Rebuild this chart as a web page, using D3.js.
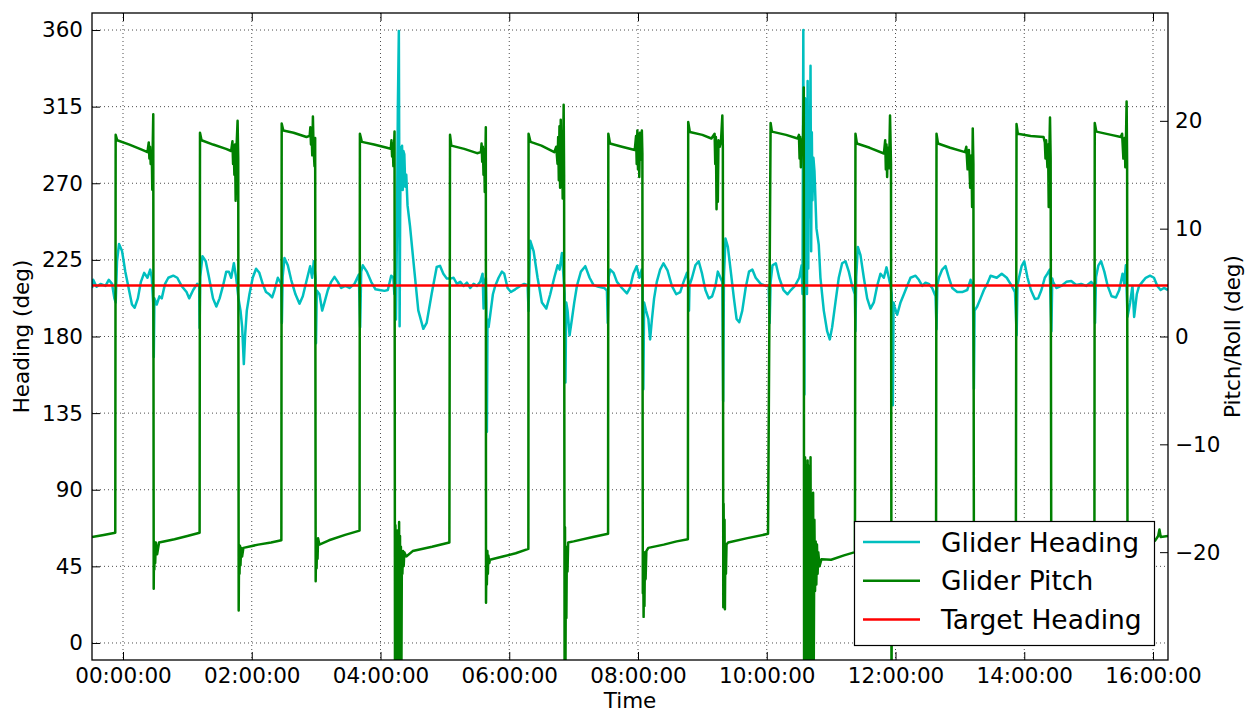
<!DOCTYPE html>
<html><head><meta charset="utf-8">
<script src="https://cdn.jsdelivr.net/npm/d3@7"></script>
<style>
body{margin:0;background:#fff}
svg{display:block}
text{font-family:"DejaVu Sans",sans-serif;fill:#000}
</style>
</head><body>
<svg id="chart" width="1247" height="713"></svg>
<script>
// ---------- data ----------
const xTickHours = [0, 2, 4, 6, 8, 10, 12, 14, 16];
const headingTicks = [0, 45, 90, 135, 180, 225, 270, 315, 360];
const pitchTicks = [-20, -10, 0, 10, 20];
const timeRangeHours = [-0.4816, 16.233];
const targetHeading = 210;
const legendLabels = ["Glider Heading", "Glider Pitch", "Target Heading"];

// [hours since 00:00, heading deg]
const headingSeries = [
[-0.481,208.5],[-0.463,213.3],[-0.411,209.2],[-0.35,210.9],[-0.272,209.7],[-0.221,213.3],[-0.17,210.9],[-0.134,202.4],[-0.113,200.0],[-0.093,224.2],[-0.062,234.3],[-0.015,230.2],[0.036,218.1],[0.087,208.5],[0.139,198.8],[0.18,196.9],[0.231,202.4],[0.278,212.1],[0.329,217.4],[0.38,214.5],[0.422,219.3],[0.447,214.5],[0.468,200],[0.478,168],[0.488,202.4],[0.524,198.8],[0.566,203.6],[0.602,202.4],[0.653,210.9],[0.704,214.5],[0.781,215.7],[0.843,214.5],[0.91,209.7],[0.987,206.1],[1.028,202.4],[1.09,207.3],[1.152,210.9],[1.183,209.7],[1.19,185],[1.20,215],[1.234,227.1],[1.285,224.2],[1.337,214.5],[1.398,202.4],[1.45,197.6],[1.501,202.4],[1.553,209.7],[1.604,218.1],[1.645,218.1],[1.681,214.5],[1.722,223],[1.758,214.5],[1.794,202.4],[1.825,195.2],[1.851,185.5],[1.877,163.8],[1.897,180.7],[1.923,195.2],[1.964,204.8],[2.015,214.5],[2.067,219.8],[2.118,217.4],[2.17,210.9],[2.221,206.1],[2.272,204.8],[2.317,203],[2.354,207.3],[2.405,214.5],[2.457,210.9],[2.468,188],[2.48,215],[2.508,226.1],[2.56,221.8],[2.612,213.3],[2.679,204.8],[2.742,199.3],[2.793,203.6],[2.855,213.3],[2.907,221.3],[2.938,214.5],[2.964,224.2],[2.99,214.5],[2.998,176],[3.01,207],[3.052,204.8],[3.094,195.2],[3.13,200],[3.182,207.3],[3.234,212.1],[3.285,215],[3.337,212.1],[3.389,208.5],[3.456,209.7],[3.518,208.5],[3.596,210.9],[3.663,216.4],[3.684,185.5],[3.70,218],[3.725,221.8],[3.788,218.1],[3.855,212.1],[3.922,207.7],[3.984,207.3],[4.062,206.8],[4.114,207.3],[4.166,215.7],[4.20,214.5],[4.215,205],[4.225,218],[4.24,190],[4.255,240],[4.27,316],[4.285,359.5],[4.29,300],[4.297,186],[4.305,250],[4.315,291],[4.325,280],[4.335,292],[4.345,266],[4.355,289],[4.37,287],[4.385,268],[4.40,275],[4.42,257],[4.458,245],[4.51,224.7],[4.587,195.3],[4.665,184.5],[4.717,188],[4.795,205.1],[4.873,220.8],[4.924,221.5],[4.976,216.9],[5.03,214],[5.083,214],[5.135,214.5],[5.187,210.9],[5.239,212.1],[5.291,209.7],[5.342,211.6],[5.394,208.5],[5.446,210.9],[5.498,209.7],[5.549,212.1],[5.586,216.9],[5.601,196.4],[5.615,212],[5.637,214.5],[5.645,200],[5.653,124],[5.662,190],[5.679,185.5],[5.705,192.8],[5.746,204.8],[5.782,209.7],[5.834,214.5],[5.886,218.1],[5.922,216.9],[5.974,208.5],[6.026,206.1],[6.093,207.7],[6.171,209.7],[6.233,210.9],[6.285,210.2],[6.30,195],[6.31,215],[6.326,236.3],[6.378,230.2],[6.44,214.5],[6.507,200],[6.575,196.4],[6.637,204.8],[6.699,214.5],[6.751,221.8],[6.782,219.3],[6.818,229],[6.844,214.5],[6.86,205],[6.873,153],[6.885,200],[6.906,195.2],[6.937,180.7],[6.974,190.3],[7.01,200],[7.051,209.7],[7.113,218.1],[7.181,221.3],[7.248,214.5],[7.31,210.2],[7.388,209.2],[7.476,208.5],[7.517,207],[7.53,188],[7.545,215],[7.569,219.3],[7.621,217.4],[7.673,212.1],[7.75,208.5],[7.828,205.3],[7.875,208.5],[7.927,216.9],[7.979,221.3],[8.021,214.5],[8.057,219.3],[8.07,210],[8.083,149],[8.095,200],[8.125,195.2],[8.161,190.3],[8.188,178.3],[8.214,189.1],[8.25,202.4],[8.292,212.1],[8.344,219.3],[8.396,223],[8.458,218.9],[8.526,209.7],[8.594,204.8],[8.656,206.1],[8.708,212.1],[8.76,217.4],[8.785,212],[8.792,195.2],[8.80,210],[8.839,214.5],[8.891,221.8],[8.943,224.2],[8.995,216.9],[9.047,207.3],[9.099,202.4],[9.151,203.6],[9.203,209.7],[9.24,218.1],[9.281,214.5],[9.31,212],[9.323,142],[9.335,215],[9.359,237.5],[9.396,232.6],[9.438,219.3],[9.49,202.4],[9.531,190.3],[9.573,188.4],[9.62,195.2],[9.672,208.5],[9.724,218.1],[9.776,219.3],[9.828,214.5],[9.906,210.9],[9.984,209.7],[10.03,210],[10.045,188],[10.06,212],[10.089,221.8],[10.141,223],[10.193,214.5],[10.26,207.3],[10.323,204.8],[10.375,207.3],[10.438,209.7],[10.505,214.5],[10.542,221.8],[10.555,205],[10.568,360],[10.575,230],[10.585,146],[10.595,320],[10.605,210],[10.615,300],[10.625,205],[10.635,330],[10.645,220],[10.655,310],[10.665,250],[10.68,339],[10.69,230],[10.70,300],[10.71,260],[10.725,285],[10.741,277.3],[10.772,243.5],[10.808,233.8],[10.834,214.5],[10.886,195.2],[10.938,183.1],[10.979,178.3],[11.016,185.5],[11.067,200],[11.119,214.5],[11.171,223],[11.223,224.2],[11.275,218.1],[11.326,209.7],[11.368,204.8],[11.378,183.1],[11.39,215],[11.415,232.6],[11.456,227.8],[11.508,214.5],[11.56,202.4],[11.611,196.4],[11.663,200],[11.715,209.7],[11.767,216.9],[11.819,214.5],[11.86,220.6],[11.896,214.5],[11.922,210],[11.94,205],[11.959,139.6],[11.97,200],[11.984,197.6],[12.026,192.8],[12.078,200],[12.13,204.8],[12.181,209.7],[12.233,214.5],[12.311,215.7],[12.363,213.3],[12.415,209.7],[12.466,211.6],[12.518,210.9],[12.57,208.5],[12.622,203.6],[12.637,184.3],[12.65,210],[12.674,214.5],[12.725,219.3],[12.777,221.3],[12.829,214.5],[12.881,208.5],[12.959,206.1],[13.036,206.1],[13.114,207.3],[13.166,213.3],[13.202,210],[13.218,149.3],[13.228,195.2],[13.269,197.6],[13.321,202.4],[13.373,207.3],[13.425,210.9],[13.477,215.7],[13.573,214.5],[13.65,216.9],[13.728,214.5],[13.805,209.7],[13.856,206.1],[13.882,180.7],[13.895,210],[13.918,214.5],[13.959,221.3],[14.0,224.2],[14.051,214.5],[14.103,207.3],[14.165,202],[14.216,202.4],[14.267,207.3],[14.319,214.5],[14.36,216.9],[14.396,219.3],[14.422,183.1],[14.435,214],[14.447,212.1],[14.499,208.5],[14.576,209.7],[14.653,212.1],[14.73,212.6],[14.807,210.2],[14.884,210.9],[14.961,209.7],[15.039,212.1],[15.09,210],[15.1,187.9],[15.115,215],[15.152,221.8],[15.193,224.2],[15.244,218.1],[15.296,209.7],[15.357,203.6],[15.424,202.9],[15.476,207.3],[15.527,216.9],[15.553,211],[15.578,221.8],[15.604,191.6],[15.645,200],[15.681,209.7],[15.707,191.5],[15.748,204.8],[15.784,209.7],[15.835,212.1],[15.887,214.5],[15.954,215.7],[16.015,214.5],[16.067,209.7],[16.118,207.3],[16.17,208.5],[16.233,207.3]
];

// [hours since 00:00, pitch deg]
const pitchSeries = [
[-0.481,-18.6],[-0.30,-18.4],[-0.12,-18.2],
[-0.114,18.7],[-0.09,18.2],[0.10,17.8],[0.30,17.3],[0.38,17.1],[0.40,18.0],[0.41,16.5],[0.42,17.6],[0.43,16.0],[0.44,17.2],[0.45,15.8],[0.455,13.6],[0.46,17.0],[0.47,20.6],
[0.477,-23.4],[0.482,-19.0],[0.487,-21.6],[0.492,-19.3],[0.50,-21.0],[0.51,-19.1],[0.53,-20.2],[0.56,-19.1],[0.8,-18.8],[1.0,-18.5],[1.19,-18.2],
[1.196,18.9],[1.22,18.2],[1.4,17.8],[1.6,17.4],[1.68,17.2],[1.70,18.1],[1.71,16.0],[1.72,17.5],[1.73,15.0],[1.74,17.8],[1.75,12.6],[1.76,17.0],[1.78,20.0],[1.79,16.5],
[1.797,-25.4],[1.803,-19.6],[1.81,-22.0],[1.817,-19.4],[1.825,-21.2],[1.835,-19.6],[1.85,-20.4],[1.87,-19.6],[2.1,-19.3],[2.3,-19.1],[2.46,-18.9],
[2.465,19.75],[2.49,19.1],[2.65,18.9],[2.85,18.5],[2.90,18.6],[2.91,19.4],[2.92,17.8],[2.93,18.8],[2.94,16.8],[2.95,20.4],[2.96,17.5],[2.975,15.8],[2.985,18.4],
[2.993,-22.7],[3.0,-18.9],[3.007,-21.5],[3.014,-19.2],[3.022,-20.6],[3.03,-18.7],[3.05,-19.3],[3.2,-18.9],[3.45,-18.4],[3.675,-18.0],
[3.68,18.8],[3.71,18.05],[3.9,17.8],[4.1,17.5],[4.16,17.4],[4.17,18.2],[4.18,16.7],[4.19,17.9],[4.20,15.8],[4.21,17.5],[4.218,19.0],
[4.225,-33],[4.232,-17.5],[4.24,-34],[4.247,-19],[4.254,-33],[4.261,-18],[4.268,-35],[4.275,-20],[4.282,-33],[4.289,-17.2],[4.296,-34],[4.303,-18.5],[4.31,-32],[4.317,-19.5],[4.325,-31],[4.332,-20],[4.34,-22],[4.35,-19.9],[4.36,-21.3],[4.37,-20.0],[4.40,-20.4],[4.5,-19.9],[4.8,-19.5],[5.07,-19.1],
[5.08,18.7],[5.10,17.7],[5.3,17.4],[5.5,17.0],[5.56,17.1],[5.57,17.9],[5.58,16.2],[5.59,17.6],[5.60,15.0],[5.61,17.3],[5.62,13.4],[5.63,17.0],[5.636,19.4],
[5.639,-24.7],[5.645,-20.2],[5.652,-23.0],[5.66,-19.9],[5.668,-22.0],[5.675,-20.3],[5.69,-21.0],[5.70,-20.7],[5.9,-20.4],[6.1,-20.1],[6.297,-19.7],
[6.30,18.8],[6.33,18.05],[6.5,17.7],[6.7,17.1],[6.73,17.6],[6.75,16.0],[6.76,18.5],[6.77,14.5],[6.78,19.5],[6.79,13.8],[6.80,20.1],[6.81,14.0],[6.82,19.0],[6.83,12.8],[6.845,21.5],[6.852,15.0],
[6.86,-32],[6.866,-17.7],[6.873,-31],[6.88,-20.5],[6.887,-26.1],[6.895,-19.5],[6.905,-21.8],[6.915,-19.1],[7.0,-19.0],[7.3,-18.6],[7.535,-18.3],
[7.539,18.8],[7.565,17.9],[7.75,17.6],[7.95,17.3],[7.97,18.6],[7.98,16.0],[7.99,19.1],[8.00,15.5],[8.01,18.7],[8.02,14.8],[8.03,18.9],[8.045,16.4],[8.06,19.1],[8.068,17.0],
[8.075,-23.8],[8.08,-20.1],[8.087,-26.0],[8.094,-20.6],[8.10,-25.0],[8.108,-20.0],[8.118,-22.5],[8.13,-19.9],[8.16,-19.6],[8.4,-19.3],[8.6,-19.0],[8.775,-18.8],
[8.78,19.9],[8.805,18.97],[9.0,18.7],[9.14,18.36],[9.19,18.8],[9.20,16.0],[9.21,18.5],[9.22,11.8],[9.23,17.8],[9.24,12.5],[9.25,18.2],[9.27,17.6],[9.29,18.2],[9.31,20.5],[9.318,17.5],
[9.325,-25.1],[9.33,-15.5],[9.337,-23.0],[9.344,-17.0],[9.35,-25.3],[9.357,-19.5],[9.366,-22.0],[9.375,-19.3],[9.40,-19.1],[9.7,-18.7],[10.02,-18.3],
[10.06,19.8],[10.08,19.0],[10.3,18.7],[10.48,18.36],[10.50,18.7],[10.51,16.5],[10.52,18.5],[10.53,15.7],[10.545,18.3],[10.56,17.0],[10.575,23.1],
[10.58,-33],[10.585,-12],[10.59,-34],[10.595,-11.2],[10.60,-33],[10.605,-13],[10.61,-35],[10.615,-12],[10.62,-33],[10.625,-14],[10.63,-34],[10.635,-11.5],[10.64,-32],[10.645,-15],[10.65,-33],[10.655,-12],[10.66,-31],[10.665,-14],[10.67,-33],[10.68,-11.2],[10.69,-32],[10.70,-15],[10.71,-31],[10.72,-14.5],[10.73,-30.5],[10.74,-17],[10.75,-23.6],[10.76,-19],[10.77,-23],[10.78,-19.3],[10.79,-22],[10.80,-20],[10.82,-21.3],[10.85,-20.65],[11.0,-20.7],[11.2,-20.3],[11.37,-20.0],
[11.378,18.8],[11.40,17.9],[11.6,17.5],[11.82,16.97],[11.84,18.2],[11.85,15.5],[11.86,17.8],[11.87,14.8],[11.88,17.5],[11.90,15.6],[11.915,20.5],[11.93,16.0],
[11.938,-33],[11.945,-19.5],[11.96,-21.5],[11.98,-20.0],[12.2,-19.8],[12.4,-19.5],[12.63,-19.2],
[12.637,18.8],[12.66,17.9],[12.85,17.5],[13.08,17.1],[13.10,17.6],[13.12,15.5],[13.14,17.3],[13.16,13.8],[13.18,16.8],[13.19,12.0],[13.20,19.3],[13.21,16.0],
[13.218,-22],[13.23,-19.5],[13.5,-19.2],[13.87,-18.8],
[13.88,19.7],[13.90,18.8],[14.1,18.6],[14.30,18.5],[14.32,18.0],[14.33,16.5],[14.34,18.2],[14.36,15.7],[14.37,17.8],[14.38,12.0],[14.39,17.2],[14.40,20.3],[14.41,16.5],
[14.42,-22],[14.43,-19.5],[14.7,-19.2],[15.09,-18.8],
[15.095,19.8],[15.12,19.0],[15.35,18.7],[15.50,18.5],[15.52,18.8],[15.54,16.5],[15.56,18.4],[15.57,15.7],[15.58,18.2],[15.59,21.8],[15.598,16.0],
[15.604,-22],[15.62,-19.5],[15.9,-19.2],[16.03,-18.95],[16.08,-18.5],[16.10,-17.9],[16.12,-18.6],[16.233,-18.5]
];

// ---------- drawing ----------
const colors = {heading: "#00BFBF", pitch: "#008000", target: "#FF0000"};
const L = 92, R = 1168, T = 13, B = 660;
const base = Date.UTC(2015, 0, 1);
const toDate = h => new Date(base + h * 3600000);

const svg = d3.select("#chart");
svg.append("rect").attr("width", 1247).attr("height", 713).attr("fill", "#fff");

const x = d3.scaleUtc().domain(timeRangeHours.map(toDate)).range([L, R]);
const yH = d3.scaleLinear().domain([-10, 370]).range([B, T]);
const yP = d3.scaleLinear().domain([-30, 30]).range([B, T]);

svg.append("defs").append("clipPath").attr("id", "clip")
  .append("rect").attr("x", L).attr("y", T).attr("width", R - L).attr("height", B - T);

// grid
const grid = svg.append("g").attr("stroke", "#222").attr("stroke-width", 1)
  .attr("stroke-dasharray", "1,3").attr("opacity", 0.8);
grid.selectAll(".gh").data(headingTicks).join("line")
  .attr("x1", L).attr("x2", R).attr("y1", d => yH(d)).attr("y2", d => yH(d));
grid.selectAll(".gv").data(xTickHours).join("line")
  .attr("y1", T).attr("y2", B).attr("x1", d => x(toDate(d))).attr("x2", d => x(toDate(d)));

const plot = svg.append("g").attr("clip-path", "url(#clip)");
const lineH = d3.line().x(d => x(toDate(d[0]))).y(d => yH(d[1]));
const lineP = d3.line().x(d => x(toDate(d[0]))).y(d => yP(d[1]));

plot.append("path").datum(headingSeries).attr("d", lineH)
  .attr("fill", "none").attr("stroke", colors.heading).attr("stroke-width", 2.5).attr("stroke-linejoin", "round");
plot.append("path").datum([[timeRangeHours[0], targetHeading], [timeRangeHours[1], targetHeading]]).attr("d", lineH)
  .attr("fill", "none").attr("stroke", colors.target).attr("stroke-width", 2.5);
plot.append("path").datum(pitchSeries).attr("d", lineP)
  .attr("fill", "none").attr("stroke", colors.pitch).attr("stroke-width", 2.5).attr("stroke-linejoin", "round");

// axes
const fs = "21.5px";
const fmt = d3.utcFormat("%H:%M:%S");
const gx = svg.append("g").attr("transform", `translate(0,${B})`)
  .call(d3.axisBottom(x).tickValues(xTickHours.map(toDate)).tickFormat(fmt).tickSizeInner(-8).tickSizeOuter(0).tickPadding(8));
const gxt = svg.append("g").attr("transform", `translate(0,${T})`)
  .call(d3.axisTop(x).tickValues(xTickHours.map(toDate)).tickFormat("").tickSizeInner(-8).tickSizeOuter(0));
const gy = svg.append("g").attr("transform", `translate(${L},0)`)
  .call(d3.axisLeft(yH).tickValues(headingTicks).tickSizeInner(-8).tickSizeOuter(0).tickPadding(9));
const gy2 = svg.append("g").attr("transform", `translate(${R},0)`)
  .call(d3.axisRight(yP).tickValues(pitchTicks).tickSizeInner(-8).tickSizeOuter(0).tickPadding(7));
[gx, gxt, gy, gy2].forEach(g => {
  g.select(".domain").remove();
  g.selectAll(".tick line").attr("stroke", "#000").attr("stroke-width", 1);
  g.selectAll("text").attr("font-size", fs).attr("font-family", "DejaVu Sans").attr("fill", "#000");
});

// frame
svg.append("rect").attr("x", L).attr("y", T).attr("width", R - L).attr("height", B - T)
  .attr("fill", "none").attr("stroke", "#000").attr("stroke-width", 1.3);

// axis labels
svg.append("text").attr("x", (L + R) / 2).attr("y", 708).attr("text-anchor", "middle")
  .attr("font-size", fs).text("Time");
svg.append("text").attr("transform", `translate(29,${(T + B) / 2}) rotate(-90)`).attr("text-anchor", "middle")
  .attr("font-size", fs).text("Heading (deg)");
svg.append("text").attr("transform", `translate(1240,${(T + B) / 2}) rotate(-90)`).attr("text-anchor", "middle")
  .attr("font-size", fs).text("Pitch/Roll (deg)");

// legend
const lg = svg.append("g");
lg.append("rect").attr("x", 854.5).attr("y", 521.5).attr("width", 300).attr("height", 124)
  .attr("fill", "#fff").attr("stroke", "#000").attr("stroke-width", 1.2);
const legendColors = [colors.heading, colors.pitch, colors.target];
legendLabels.forEach((lab, i) => {
  const yy = 542 + i * 38.7;
  lg.append("line").attr("x1", 863).attr("x2", 920).attr("y1", yy).attr("y2", yy)
    .attr("stroke", legendColors[i]).attr("stroke-width", 2.5);
  lg.append("text").attr("x", 941).attr("y", yy + 9.5).attr("font-size", "26.5px").text(lab);
});
</script>
</body></html>
